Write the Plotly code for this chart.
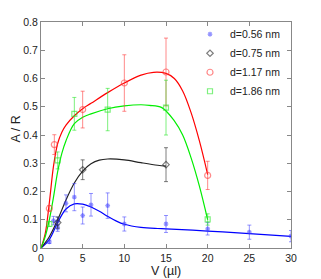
import plotly.graph_objects as go

# ---- data points (V in µl, A/R) ----
blue_x = [1, 1.5, 2, 2, 3, 4, 5, 6, 8, 10, 15, 20, 25, 30]
blue_y = [0.022, 0.097, 0.094, 0.071, 0.158, 0.18, 0.115, 0.153, 0.15, 0.085, 0.085, 0.068, 0.056, 0.042]
blue_e = [0.006, 0.015, 0.015, 0.012, 0.03, 0.048, 0.03, 0.04, 0.045, 0.025, 0.03, 0.022, 0.025, 0.02]

black_x = [2, 5, 15]
black_y = [0.09, 0.277, 0.295]
black_e = [0.02, 0.035, 0.06]

red_x = [1, 1.6, 5, 10, 15, 20]
red_y = [0.14, 0.366, 0.49, 0.584, 0.623, 0.257]
red_e = [0.01, 0.035, 0.065, 0.1, 0.12, 0.05]

green_x = [1, 2, 4, 8, 15, 20]
green_y = [0.085, 0.31, 0.475, 0.49, 0.497, 0.101]
green_e = [0.008, 0.03, 0.058, 0.075, 0.097, 0.02]

# ---- fitted curves ----
blue_fx = [0, 1, 2, 3, 4, 5, 6, 7, 8, 9, 10, 12, 14, 15, 20, 25, 30]
blue_fy = [0, 0.03, 0.09, 0.138, 0.156, 0.155, 0.145, 0.13, 0.112, 0.096, 0.084, 0.073, 0.069, 0.068, 0.06, 0.051, 0.041]

black_fx = [0, 1, 2, 3, 4, 5, 6, 7, 8, 10, 12, 14, 15]
black_fy = [0, 0.04, 0.1, 0.17, 0.23, 0.272, 0.298, 0.311, 0.315, 0.312, 0.302, 0.293, 0.29]

red_fx = [0, 0.5, 1, 1.5, 2, 2.5, 3, 4, 5, 6, 8, 10, 12, 13.5, 15, 16, 17, 18, 19, 20]
red_fy = [0, 0.05, 0.16, 0.29, 0.37, 0.41, 0.435, 0.468, 0.493, 0.512, 0.55, 0.584, 0.612, 0.622, 0.618, 0.6, 0.556, 0.48, 0.38, 0.26]

green_fx = [0, 0.5, 1, 1.5, 2, 2.5, 3, 4, 5, 6, 8, 10, 12, 13, 14.5, 16, 17, 18, 19, 20]
green_fy = [0, 0.04, 0.1, 0.18, 0.27, 0.335, 0.38, 0.44, 0.463, 0.475, 0.493, 0.503, 0.507, 0.505, 0.497, 0.45, 0.4, 0.32, 0.22, 0.1]

x_ticks = [0, 5, 10, 15, 20, 25, 30]
y_ticks = [0, 0.1, 0.2, 0.3, 0.4, 0.5, 0.6, 0.7, 0.8]
y_tick_text = ["0", "0.1", "0.2", "0.3", "0.4", "0.5", "0.6", "0.7", "0.8"]

series = [
    ("d=0.56 nm", blue_x, blue_y, blue_e, blue_fx, blue_fy, "#0000ff", "rgba(60,60,255,0.55)", "asterisk-open", 4),
    ("d=0.75 nm", black_x, black_y, black_e, black_fx, black_fy, "#222222", "rgba(40,40,40,0.6)", "diamond-open", 5),
    ("d=1.17 nm", red_x, red_y, red_e, red_fx, red_fy, "#ff0000", "rgba(255,60,60,0.6)", "circle-open", 6),
    ("d=1.86 nm", green_x, green_y, green_e, green_fx, green_fy, "#00ee00", "rgba(40,230,40,0.6)", "square-open", 5),
]

fig = go.Figure()
for name, xs, ys, es, fx, fy, lc, mc, sym, sz in series:
    fig.add_trace(go.Scatter(x=fx, y=fy, mode="lines", line=dict(color=lc, width=1.2, shape="spline", smoothing=1.0),
                             showlegend=False, hoverinfo="skip"))
for name, xs, ys, es, fx, fy, lc, mc, sym, sz in series:
    fig.add_trace(go.Scatter(x=xs, y=ys, mode="markers", name=name,
                             marker=dict(symbol=sym, size=sz, color=mc, line=dict(color=mc, width=1.2)),
                             error_y=dict(type="data", array=es, visible=True, color=mc, thickness=1, width=2)))

font_fam = "Liberation Sans, Arial"
axis_common = dict(showline=True, linecolor="#888888", linewidth=1, mirror="ticks", ticks="inside",
                   ticklen=4, tickcolor="#888888", showgrid=False, zeroline=False, automargin=False,
                   tickfont=dict(family=font_fam, size=10.5, color="#222222"))

# page body has an 8px default margin, so the figure is 8px smaller and margins shifted
fig.update_layout(
    width=313, height=271,
    margin=dict(l=33, r=30, t=14, b=31, autoexpand=False),
    paper_bgcolor="white", plot_bgcolor="white",
    xaxis=dict(range=[0, 30], tickvals=x_ticks, **axis_common),
    yaxis=dict(range=[0, 0.8], tickvals=y_ticks, ticktext=y_tick_text, **axis_common),
    legend=dict(x=0.98, y=1.01, xanchor="right", yanchor="top", bgcolor="rgba(0,0,0,0)",
                font=dict(family=font_fam, size=10.5, color="#222222"),
                itemwidth=30, tracegroupgap=0),
    showlegend=True,
    annotations=[
        dict(text="V (µl)", x=0.5, y=-0.1, xref="paper", yref="paper", xanchor="center", yanchor="middle",
             showarrow=False, font=dict(family=font_fam, size=12.5, color="#222222")),
        dict(text="A / R", x=-0.102, y=0.527, xref="paper", yref="paper", xanchor="center", yanchor="middle",
             textangle=-90, showarrow=False, font=dict(family=font_fam, size=12.5, color="#222222")),
    ],
)

fig.write_html("out.html")
